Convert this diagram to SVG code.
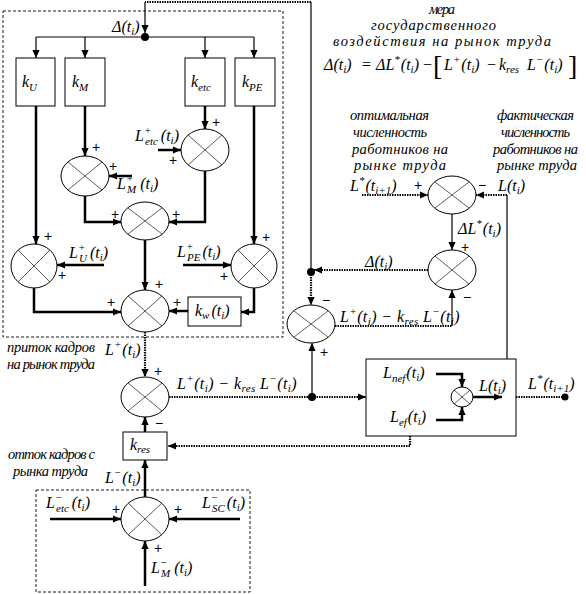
<svg xmlns="http://www.w3.org/2000/svg" width="586" height="594" viewBox="0 0 586 594">
<defs>
<marker id="a" viewBox="0 0 10 10" refX="10" refY="5" markerWidth="8" markerHeight="8" markerUnits="userSpaceOnUse" orient="auto"><path d="M0,0.5 L10,5 L0,9.5 z" fill="#000"/></marker>
<style>
.t{stroke:#000;stroke-width:2.5;fill:none}
.n{stroke:#000;stroke-width:1.2;fill:none}
.d{stroke:#000;stroke-width:2.2;stroke-dasharray:1.5 1;fill:none}
.box{fill:#fff;stroke:#000;stroke-width:1}
.grp{fill:none;stroke:#000;stroke-width:0.9;stroke-dasharray:3 2}
.sum{fill:#fff;stroke:#000;stroke-width:1}
.x{stroke:#333;stroke-width:0.8}
text{font-family:"Liberation Serif","DejaVu Serif",serif;fill:#000}
.m{font-size:16px;font-style:italic}
.s{font-size:11px}
.ru{font-size:14.5px;font-style:italic}
.ps{font-size:14px;text-anchor:middle;font-family:"Liberation Sans",sans-serif}
.up{font-style:normal}
.br{font-size:28px;font-style:normal}
.dot{fill:#000}
</style>
</defs>

<!-- group frames -->
<rect class="grp" x="3" y="11" width="280" height="326"/>
<rect class="grp" x="36" y="490" width="214" height="102"/>

<!-- boxes -->
<g id="kU"><rect class="box" x="16" y="58" width="39" height="48"/><text class="m" x="22" y="87">k<tspan class="s" dy="4">U</tspan></text></g>
<g id="kM"><rect class="box" x="65" y="58" width="40" height="48"/><text class="m" x="72" y="87">k<tspan class="s" dy="4">M</tspan></text></g>
<g id="ketc"><rect class="box" x="185" y="58" width="40" height="48"/><text class="m" x="191" y="87">k<tspan class="s" dy="4">etc</tspan></text></g>
<g id="kPE"><rect class="box" x="235" y="58" width="40" height="48"/><text class="m" x="242" y="87">k<tspan class="s" dy="4">PE</tspan></text></g>
<g id="kw"><rect class="box" x="188" y="297" width="53" height="29"/><text class="m" x="195" y="316">k<tspan class="s" dy="3">w</tspan><tspan dy="-3" dx="2">(t</tspan><tspan class="s" dy="3">i</tspan><tspan dy="-3">)</tspan></text></g>
<g id="kres"><rect class="box" x="123" y="432" width="44" height="28"/><text class="m" x="130" y="450">k<tspan class="s" dy="3">res</tspan></text></g>
<g id="outbox"><rect class="box" x="366" y="359" width="150" height="77"/>
<text class="m" x="383" y="378">L<tspan class="s" dy="4">nef</tspan><tspan dy="-4" dx="1">(t</tspan><tspan class="s" dy="3">i</tspan><tspan dy="-3">)</tspan></text>
<text class="m" x="390" y="422">L<tspan class="s" dy="4">ef</tspan><tspan dy="-4" dx="1">(t</tspan><tspan class="s" dy="3">i</tspan><tspan dy="-3">)</tspan></text>
<text class="m" x="479" y="391">L(t<tspan class="s" dy="3">i</tspan><tspan dy="-3">)</tspan></text>
</g>

<!-- summators -->
<g id="sM"><ellipse class="sum" cx="85" cy="176" rx="24" ry="20"/><path class="x" d="M68 162 L102 190 M102 162 L68 190"/></g>
<g id="sEtc"><ellipse class="sum" cx="205" cy="150" rx="24" ry="21"/><path class="x" d="M188 135 L222 165 M222 135 L188 165"/></g>
<g id="sMid"><ellipse class="sum" cx="145" cy="221" rx="24" ry="19"/><path class="x" d="M128 208 L162 234 M162 208 L128 234"/></g>
<g id="sU"><ellipse class="sum" cx="34" cy="266" rx="23" ry="22"/><path class="x" d="M18 250 L50 282 M50 250 L18 282"/></g>
<g id="sPE"><ellipse class="sum" cx="254" cy="266" rx="23" ry="22"/><path class="x" d="M238 250 L270 282 M270 250 L238 282"/></g>
<g id="sMain"><ellipse class="sum" cx="145" cy="311" rx="24" ry="21"/><path class="x" d="M128 296 L162 326 M162 296 L128 326"/></g>
<g id="sLow"><ellipse class="sum" cx="145" cy="397" rx="24" ry="20"/><path class="x" d="M128 383 L162 411 M162 383 L128 411"/></g>
<g id="sBot"><ellipse class="sum" cx="145" cy="519" rx="24" ry="22"/><path class="x" d="M128 503 L162 535 M162 503 L128 535"/></g>
<g id="sLeft"><ellipse class="sum" cx="311" cy="324" rx="24" ry="19"/><path class="x" d="M294 311 L328 337 M328 311 L294 337"/></g>
<g id="sDelta"><ellipse class="sum" cx="452" cy="270" rx="24" ry="20"/><path class="x" d="M435 256 L469 284 M469 256 L435 284"/></g>
<g id="sStar"><ellipse class="sum" cx="452" cy="195" rx="24" ry="19"/><path class="x" d="M435 182 L469 208 M469 182 L435 208"/></g>
<g id="sSmall"><ellipse class="sum" cx="462" cy="397" rx="11" ry="10"/><path class="x" d="M454 390 L470 404 M470 390 L454 404"/></g>

<g id="connectors">
<path class="n" d="M311 272 V2" />
<path class="d" d="M311 2 H145"/>
<path class="n" d="M145 2 V33" marker-end="url(#a)"/>
<path class="n" d="M36 37 H254"/>
<path class="n" d="M36 37 V58" marker-end="url(#a)"/>
<path class="n" d="M85 37 V58" marker-end="url(#a)"/>
<path class="n" d="M205 37 V58" marker-end="url(#a)"/>
<path class="n" d="M254 37 V58" marker-end="url(#a)"/>
<path class="t" d="M36 106 V244" marker-end="url(#a)"/>
<path class="t" d="M85 106 V156" marker-end="url(#a)"/>
<path class="t" d="M205 106 V129" marker-end="url(#a)"/>
<path class="t" d="M254 106 V244" marker-end="url(#a)"/>
<path class="t" d="M158 150 H181" marker-end="url(#a)"/>
<path class="t" d="M132 176 H109" marker-end="url(#a)"/>
<path class="t" d="M85 196 V222 H121" marker-end="url(#a)"/>
<path class="t" d="M205 171 V222 H169" marker-end="url(#a)"/>
<path class="t" d="M145 240 V290" marker-end="url(#a)"/>
<path class="t" d="M104 265 H57" marker-end="url(#a)"/>
<path class="t" d="M183 265 H231" marker-end="url(#a)"/>
<path class="t" d="M34 288 V312 H121" marker-end="url(#a)"/>
<path class="t" d="M254 288 V312 H241" marker-end="url(#a)"/>
<path class="t" d="M188 311 H169" marker-end="url(#a)"/>
<path class="d" d="M145 332 V377" marker-end="url(#a)"/>
<path class="d" d="M169 397 H366" marker-end="url(#a)"/>
<path class="n" d="M312 397 V343" marker-end="url(#a)"/>
<path class="d" d="M311 272 V305" marker-end="url(#a)"/>
<path class="d" d="M335 326 H452"/>
<path class="n" d="M452 326 V290" marker-end="url(#a)"/>
<path class="d" d="M428 270 H314" marker-end="url(#a)"/>
<path class="d" d="M362 195 H428" marker-end="url(#a)"/>
<path class="n" d="M507 359 V195"/>
<path class="d" d="M507 195 H476" marker-end="url(#a)"/>
<path class="n" d="M452 214 V250" marker-end="url(#a)"/>
<path class="t" d="M436 374 H462 V387" marker-end="url(#a)"/>
<path class="t" d="M436 420 H462 V407" marker-end="url(#a)"/>
<path class="t" d="M473 397 H502" marker-end="url(#a)"/>
<path class="d" d="M516 397 H565"/>
<path class="d" d="M410 436 V446 H168" marker-end="url(#a)"/>
<path class="t" d="M145 432 V417" marker-end="url(#a)"/>
<path class="t" d="M145 497 V460" marker-end="url(#a)"/>
<path class="t" d="M50 519 H121" marker-end="url(#a)"/>
<path class="t" d="M240 519 H169" marker-end="url(#a)"/>
<path class="t" d="M145 586 V541" marker-end="url(#a)"/>
<circle class="dot" cx="145" cy="37" r="4"/>
<circle class="dot" cx="311" cy="272" r="4"/>
<circle class="dot" cx="312" cy="397" r="4"/>
<circle class="dot" cx="565" cy="397" r="3.5"/>
</g>

<!-- labels -->
<g id="labels">
<text class="m" x="112" y="32">Δ(t<tspan class="s" dy="3">i</tspan><tspan dy="-3">)</tspan></text>
<text class="m" x="135" y="141">L<tspan class="s" dy="-7">+</tspan><tspan class="s" x="145" dy="11">etc</tspan><tspan dy="-4" dx="3">(t</tspan><tspan class="s" dy="3">i</tspan><tspan dy="-3">)</tspan></text>
<text class="m" x="117" y="189">L<tspan class="s" dy="-7">+</tspan><tspan class="s" x="127" dy="11">M</tspan><tspan dy="-4" dx="4">(t</tspan><tspan class="s" dy="3">i</tspan><tspan dy="-3">)</tspan></text>
<text class="m" x="69" y="258">L<tspan class="s" dy="-7">+</tspan><tspan class="s" x="79" dy="11">U</tspan><tspan dy="-4" dx="3">(t</tspan><tspan class="s" dy="3">i</tspan><tspan dy="-3">)</tspan></text>
<text class="m" x="177" y="257">L<tspan class="s" dy="-7">+</tspan><tspan class="s" x="187" dy="11">PE</tspan><tspan dy="-4" dx="2">(t</tspan><tspan class="s" dy="3">i</tspan><tspan dy="-3">)</tspan></text>
<text class="m" x="105" y="355">L<tspan class="s" dy="-7">+</tspan><tspan dy="7" dx="1">(t</tspan><tspan class="s" dy="3">i</tspan><tspan dy="-3">)</tspan></text>
<text class="m" x="177" y="389" letter-spacing="0.4">L<tspan class="s" dy="-7">+</tspan><tspan dy="7">(t</tspan><tspan class="s" dy="3">i</tspan><tspan dy="-3">) − k</tspan><tspan class="s" dy="3">res</tspan><tspan dy="-3"> L</tspan><tspan class="s" dy="-7">−</tspan><tspan dy="7">(t</tspan><tspan class="s" dy="3">i</tspan><tspan dy="-3">)</tspan></text>
<text class="m" x="340" y="322" letter-spacing="0.4">L<tspan class="s" dy="-7">+</tspan><tspan dy="7">(t</tspan><tspan class="s" dy="3">i</tspan><tspan dy="-3">) − k</tspan><tspan class="s" dy="3">res</tspan><tspan dy="-3"> L</tspan><tspan class="s" dy="-7">−</tspan><tspan dy="7">(t</tspan><tspan class="s" dy="3">i</tspan><tspan dy="-3">)</tspan></text>
<text class="m" x="365" y="267">Δ(t<tspan class="s" dy="3">i</tspan><tspan dy="-3">)</tspan></text>
<text class="m" x="458" y="234">ΔL<tspan class="s" dy="-7">*</tspan><tspan dy="7" dx="1">(t</tspan><tspan class="s" dy="3">i</tspan><tspan dy="-3">)</tspan></text>
<text class="m" x="350" y="191">L<tspan class="s" dy="-7">*</tspan><tspan dy="7" dx="1">(t</tspan><tspan class="s" dy="3">i+1</tspan><tspan dy="-3">)</tspan></text>
<text class="m" x="498" y="191">L(t<tspan class="s" dy="3">i</tspan><tspan dy="-3">)</tspan></text>
<text class="m" x="528" y="389">L<tspan class="s" dy="-7">*</tspan><tspan dy="7" dx="1">(t</tspan><tspan class="s" dy="3">i+1</tspan><tspan dy="-3">)</tspan></text>
<text class="m" x="105" y="483">L<tspan class="s" dy="-7">−</tspan><tspan dy="7" dx="1">(t</tspan><tspan class="s" dy="3">i</tspan><tspan dy="-3">)</tspan></text>
<text class="m" x="46" y="508">L<tspan class="s" dy="-7">−</tspan><tspan class="s" x="56" dy="11">etc</tspan><tspan dy="-4" dx="3">(t</tspan><tspan class="s" dy="3">i</tspan><tspan dy="-3">)</tspan></text>
<text class="m" x="202" y="508">L<tspan class="s" dy="-7">−</tspan><tspan class="s" x="212" dy="11">SC</tspan><tspan dy="-4" dx="2">(t</tspan><tspan class="s" dy="3">i</tspan><tspan dy="-3">)</tspan></text>
<text class="m" x="151" y="573">L<tspan class="s" dy="-7">−</tspan><tspan class="s" x="161" dy="11">M</tspan><tspan dy="-4" dx="4">(t</tspan><tspan class="s" dy="3">i</tspan><tspan dy="-3">)</tspan></text>
</g>

<!-- formula -->
<g id="formula">
<text class="m" x="324" y="70" font-size="17">Δ(t<tspan class="s" dy="3">i</tspan><tspan dy="-3">)</tspan></text>
<text class="m up" x="362" y="70" font-size="17">=</text>
<text class="m" x="376" y="70" font-size="17">ΔL<tspan class="s" dy="-7">*</tspan><tspan dy="7" dx="1">(t</tspan><tspan class="s" dy="3">i</tspan><tspan dy="-3">)</tspan></text>
<text class="m up" x="423" y="70" font-size="17">−</text>
<text class="br" x="433" y="75">[</text>
<text class="m" x="444" y="70" font-size="17">L<tspan class="s" dy="-7">+</tspan><tspan dy="7" dx="1">(t</tspan><tspan class="s" dy="3">i</tspan><tspan dy="-3">)</tspan></text>
<text class="m up" x="487" y="70" font-size="17">−</text>
<text class="m" x="499" y="70" font-size="17">k<tspan class="s" dy="3">res</tspan></text>
<text class="m" x="527" y="70" font-size="17">L<tspan class="s" dy="-7">−</tspan><tspan dy="7" dx="1">(t</tspan><tspan class="s" dy="3">i</tspan><tspan dy="-3">)</tspan></text>
<text class="br" x="568" y="75">]</text>
</g>

<!-- russian -->
<g id="notes">
<text class="ru" x="429" y="14" font-size="15" textLength="26" lengthAdjust="spacing">мера</text>
<text class="ru" x="371" y="30" font-size="15" textLength="125" lengthAdjust="spacing">государственного</text>
<text class="ru" x="333" y="46" font-size="15" textLength="218" lengthAdjust="spacing">воздействия на рынок труда</text>
<text class="ru" x="350" y="120" textLength="79" lengthAdjust="spacing">оптимальная</text>
<text class="ru" x="353" y="137" textLength="74" lengthAdjust="spacing">численность</text>
<text class="ru" x="352" y="154" textLength="96" lengthAdjust="spacing">работников на</text>
<text class="ru" x="354" y="170" textLength="92" lengthAdjust="spacing">рынке труда</text>
<text class="ru" x="497" y="120" textLength="77" lengthAdjust="spacing">фактическая</text>
<text class="ru" x="501" y="137" textLength="69" lengthAdjust="spacing">численность</text>
<text class="ru" x="493" y="154" textLength="85" lengthAdjust="spacing">работников на</text>
<text class="ru" x="497" y="170" textLength="80" lengthAdjust="spacing">рынке труда</text>
<text class="ru" x="7" y="352" textLength="88" lengthAdjust="spacing">приток кадров</text>
<text class="ru" x="7" y="369" textLength="88" lengthAdjust="spacing">на рынок труда</text>
<text class="ru" x="8" y="459" textLength="87" lengthAdjust="spacing">отток кадров с</text>
<text class="ru" x="13" y="476" textLength="75" lengthAdjust="spacing">рынка труда</text>
</g>

<!-- signs -->
<g id="signs">
<text class="ps" x="216" y="127">+</text>
<text class="ps" x="96" y="152">+</text>
<text class="ps" x="113" y="171">+</text>
<text class="ps" x="173" y="165">+</text>
<text class="ps" x="115" y="219">+</text>
<text class="ps" x="176" y="219">+</text>
<text class="ps" x="48" y="241">+</text>
<text class="ps" x="62" y="280">+</text>
<text class="ps" x="266" y="242">+</text>
<text class="ps" x="224" y="281">+</text>
<text class="ps" x="159" y="289">+</text>
<text class="ps" x="111" y="307">+</text>
<text class="ps" x="177" y="307">+</text>
<text class="ps" x="158" y="376">+</text>
<text class="ps" x="159" y="428">−</text>
<text class="ps" x="326" y="305">−</text>
<text class="ps" x="324" y="357">+</text>
<text class="ps" x="465" y="252">+</text>
<text class="ps" x="467" y="302">−</text>
<text class="ps" x="418" y="190">+</text>
<text class="ps" x="482" y="190">−</text>
<text class="ps" x="116" y="514">+</text>
<text class="ps" x="178" y="514">+</text>
<text class="ps" x="158" y="553">+</text>
</g>
</svg>
